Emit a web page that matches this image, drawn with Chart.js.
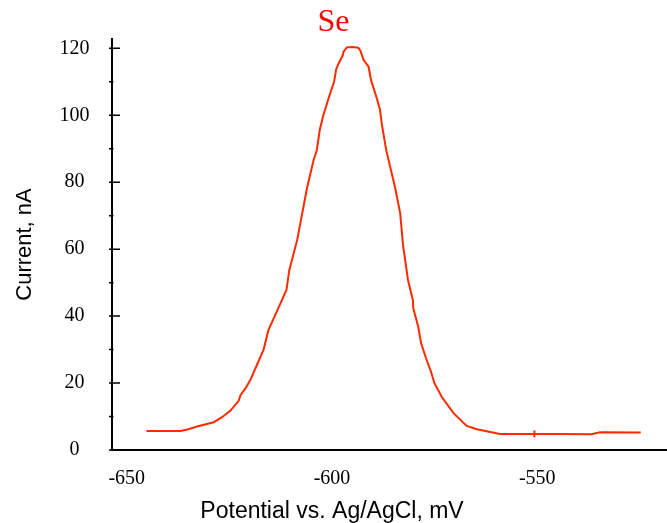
<!DOCTYPE html>
<html><head><meta charset="utf-8">
<script src="https://cdn.jsdelivr.net/npm/chart.js@4.4.0/dist/chart.umd.min.js"></script>
<style>html,body{margin:0;padding:0;background:#fff;}canvas{display:block;}</style>
</head><body>
<canvas id="c" width="667" height="523"></canvas>
<script>
// Potential (mV) and current (nA)
const potential = [-645.2, -641.0, -636.9, -635.0, -632.9, -628.8, -626.8, -624.8, -622.75, -622.3, -621.1, -619.9, -618.3, -616.7, -615.5, -613.3, -611.1, -610.4, -608.5, -606.1, -604.5, -603.7, -603.0, -602.1, -600.6, -599.5, -599.0, -598.4, -597.35, -597.2, -596.4, -595.1, -593.6, -593.1, -592.3, -591.1, -590.5, -589.1, -588.3, -587.9, -586.8, -584.6, -583.4, -582.7, -581.5, -580.3, -580.2, -579.0, -578.3, -577.1, -575.9, -575.1, -573.3, -570.4, -567.2, -564.7, -559.1, -551.0, -544.5, -536.8, -534.7, -524.8];
const current   = [5.7, 5.7, 5.7, 6.2, 7.0, 8.3, 9.8, 11.7, 14.7, 16.4, 18.4, 20.9, 25.4, 29.9, 35.8, 41.8, 47.8, 53.8, 62.7, 78.2, 86.6, 89.6, 95.6, 100.1, 106.0, 110.0, 113.7, 115.5, 118.0, 119.0, 120.3, 120.4, 120.2, 119.3, 116.5, 114.5, 110.5, 105.1, 101.6, 97.6, 89.6, 78.2, 70.8, 61.2, 50.8, 44.8, 42.3, 36.8, 31.9, 27.4, 23.4, 20.1, 15.9, 11.0, 7.2, 6.2, 4.8, 4.8, 4.8, 4.7, 5.3, 5.2];
const markerPotential = [-550.7];
const markerCurrent = [4.8];
const xTickValues = [-650, -600, -550];
const yTickValues = [0, 20, 40, 60, 80, 100, 120];
const yMinorTickValues = [10, 30, 50, 70, 90, 110];
const chartTitle = 'Se';
const xTitle = 'Potential vs. Ag/AgCl, mV';
const yTitle = 'Current, nA';

const SERIF = '"Liberation Serif", "Times New Roman", serif';
const SANS = '"Liberation Sans", Arial, sans-serif';

const extras = {
  id: 'extras',
  afterDraw(chart) {
    const ctx = chart.ctx, ys = chart.scales.y, xs = chart.scales.x;
    const left = chart.chartArea.left;
    ctx.save();
    ctx.strokeStyle = '#000';
    ctx.lineWidth = 1.5;
    ctx.beginPath();
    yTickValues.forEach(v => { const p = ys.getPixelForValue(v); ctx.moveTo(left - 3, p); ctx.lineTo(left + 8, p); });
    yMinorTickValues.forEach(v => { const p = ys.getPixelForValue(v); ctx.moveTo(left - 3, p); ctx.lineTo(left + 1.5, p); });
    ctx.stroke();
    ctx.fillStyle = '#000';
    ctx.font = '23px ' + SANS;
    ctx.textAlign = 'center';
    ctx.textBaseline = 'alphabetic';
    ctx.fillText(xTitle, xs.getPixelForValue(-600), chart.height - 5);
    ctx.restore();
  }
};

new Chart(document.getElementById('c'), {
  type: 'line',
  data: {
    datasets: [{
      data: potential.map((p, i) => ({x: p, y: current[i]})),
      borderColor: '#ff2a00',
      borderWidth: 2,
      pointRadius: 0,
      tension: 0,
      fill: false
    }, {
      data: markerPotential.map((p, i) => ({x: p, y: markerCurrent[i]})),
      showLine: false,
      pointStyle: 'line',
      rotation: 90,
      pointRadius: 3.5,
      borderColor: '#ff2a00',
      borderWidth: 2
    }]
  },
  options: {
    responsive: false,
    animation: false,
    layout: {autoPadding: false, padding: {left: 0, right: 0, top: 0, bottom: 0}},
    plugins: {
      legend: {display: false},
      tooltip: {enabled: false},
      title: {
        display: true, text: chartTitle, color: '#ff0000',
        font: {family: SERIF, size: 32, weight: 'normal', lineHeight: 1},
        padding: {top: 7, bottom: 0}
      }
    },
    scales: {
      x: {
        type: 'linear', min: -653.6, max: -518.4,
        afterBuildTicks: s => { s.ticks = xTickValues.map(v => ({value: v})); },
        afterFit: s => { s.height = 73; },
        grid: {display: false, drawTicks: false},
        border: {display: true, color: '#000', width: 2},
        ticks: {color: '#000', font: {family: SERIF, size: 20}, padding: 17, maxRotation: 0, autoSkip: false,
                callback: v => String(v)}
      },
      y: {
        type: 'linear', min: 0, max: 122.8,
        afterBuildTicks: s => { s.ticks = yTickValues.map(v => ({value: v})); },
        afterFit: s => { s.width = 112; },
        grid: {display: false, drawTicks: false},
        border: {display: true, color: '#000', width: 2},
        ticks: {color: '#000', font: {family: SERIF, size: 20}, padding: 22.5, crossAlign: 'center', autoSkip: false},
        title: {display: true, text: yTitle, color: '#000', font: {family: SANS, size: 22, lineHeight: 1.2}, padding: {top: 12, bottom: 0}}
      }
    }
  },
  plugins: [extras]
});
</script>
</body></html>
